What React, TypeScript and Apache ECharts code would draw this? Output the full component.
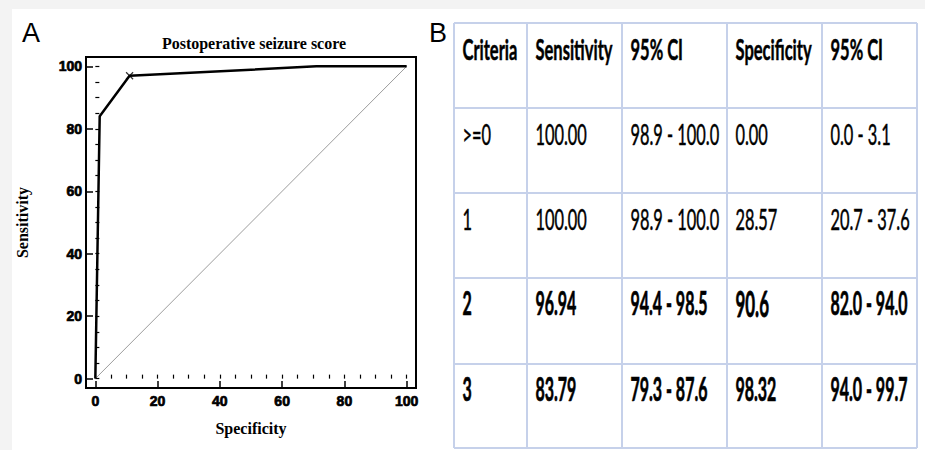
import React, { useEffect, useRef } from "react";
import * as echarts from "echarts";

// ---------- Panel A data (ROC curve) ----------
// x = 100 - Specificity (as plotted), y = Sensitivity
const rocX = [0, 1.4, 11, 71, 100];
const rocY = [0, 84, 97, 100, 100];
const markIndex = 2;
const refX = [0, 100];
const refY = [0, 100];
const majorTicks = [0, 20, 40, 60, 80, 100];
const minorTicks = [0, 5, 10, 15, 20, 25, 30, 35, 40, 45, 50, 55, 60, 65, 70, 75, 80, 85, 90, 95, 100];

// ---------- Panel B data (table) ----------
const headers = ["Criteria", "Sensitivity", "95% CI", "Specificity", "95% CI"];
const criteria = [">=0", "1", "2", "3"];
const sensitivity = ["100.00", "100.00", "96.94", "83.79"];
const sensCI = ["98.9 - 100.0", "98.9 - 100.0", "94.4 - 98.5", "79.3 - 87.6"];
const specificity = ["0.00", "28.57", "90.6", "98.32"];
const specCI = ["0.0 - 3.1", "20.7 - 37.6", "82.0 - 94.0", "94.0 - 99.7"];
const boldRows = [false, false, true, true];

// ---------- layout ----------
const colEdges = [454, 527, 622, 727, 822, 917];
const rowEdges = [23, 108, 193, 278, 364, 448];
const TABLE_FONT = "Lato, 'Open Sans', sans-serif";
const styles = {
  header: { weight: 700, size: 28, sx: 0.59, base: 37, stroke: 0.5 },
  regular: { weight: 400, size: 28, sx: 0.585, base: 37, stroke: 0.5 },
  bold: { weight: 700, size: 32, sx: 0.5, base: 37, stroke: 0.7 },
  big: { weight: 700, size: 36, sx: 0.47, base: 39, stroke: 0.8 },
};

function cellText(text: string, col: number, row: number, st: any) {
  const x = colEdges[col] + 8.5;
  const y = rowEdges[row] + st.base - 0.39 * st.size;
  return {
    type: "text",
    x,
    y,
    scaleX: st.sx,
    scaleY: 1,
    silent: true,
    style: {
      text,
      fill: "#000",
      stroke: "#000",
      lineWidth: st.stroke,
      fontFamily: TABLE_FONT,
      fontWeight: st.weight,
      fontSize: st.size,
      align: "left",
      verticalAlign: "middle",
    },
  };
}

function buildTable() {
  const els: any[] = [];
  const stroke = "#c6d1ea";
  colEdges.forEach((cx) => {
    els.push({
      type: "line",
      silent: true,
      shape: { x1: cx, y1: rowEdges[0], x2: cx, y2: rowEdges[rowEdges.length - 1] },
      style: { stroke, lineWidth: 2 },
    });
  });
  rowEdges.forEach((ry) => {
    els.push({
      type: "line",
      silent: true,
      shape: { x1: colEdges[0], y1: ry, x2: colEdges[colEdges.length - 1], y2: ry },
      style: { stroke, lineWidth: 2 },
    });
  });
  headers.forEach((h, c) => els.push(cellText(h, c, 0, styles.header)));
  criteria.forEach((_, r) => {
    const st = boldRows[r] ? styles.bold : styles.regular;
    const cells = [criteria[r], sensitivity[r], sensCI[r], specificity[r], specCI[r]];
    cells.forEach((t, c) => {
      const s = boldRows[r] && c === 3 && r === 2 ? styles.big : st;
      els.push(cellText(t, c, r + 1, s));
    });
  });
  return els;
}

export default function App() {
  const ref = useRef<HTMLDivElement>(null);
  useEffect(() => {
    document.body.style.margin = "0";
    if (!ref.current) return;
    const chart = echarts.init(ref.current, null, { renderer: "svg", width: 925, height: 450 });
    const tickLabel = {
      color: "#000",
      fontFamily: "'Liberation Sans', Arial, sans-serif",
      fontWeight: "bold",
      fontSize: 14,
      textBorderColor: "#000",
      textBorderWidth: 0.7,
    };
    const nameStyle = {
      color: "#000",
      fontFamily: "'Liberation Serif', 'Times New Roman', serif",
      fontWeight: "bold",
      fontSize: 16,
    };
    const option: any = {
      animation: false,
      backgroundColor: "#ffffff",
      grid: {
        left: 86,
        top: 57,
        width: 330,
        height: 331,
        show: true,
        borderColor: "#000",
        borderWidth: 2,
        backgroundColor: "transparent",
      },
      xAxis: [
        {
          type: "value",
          min: -3,
          max: 103,
          position: "bottom",
          name: "Specificity",
          nameLocation: "middle",
          nameGap: 32,
          nameTextStyle: nameStyle,
          axisLine: { show: true, onZero: false, lineStyle: { color: "#000", width: 2 } },
          axisTick: { show: true, inside: true, length: 7, customValues: majorTicks, lineStyle: { color: "#000", width: 1.5 } },
          axisLabel: { ...tickLabel, margin: 6, customValues: majorTicks },
          splitLine: { show: false },
        },
        {
          type: "value",
          min: -3,
          max: 103,
          position: "bottom",
          axisLine: { show: false },
          axisTick: { show: true, inside: true, length: 4, customValues: minorTicks, lineStyle: { color: "#000", width: 1.2 } },
          axisLabel: { show: false },
          splitLine: { show: false },
        },
      ],
      yAxis: [
        {
          type: "value",
          min: -3,
          max: 103,
          position: "left",
          name: "Sensitivity",
          nameLocation: "middle",
          nameGap: 56,
          nameRotate: 90,
          nameTextStyle: nameStyle,
          axisLine: { show: true, onZero: false, lineStyle: { color: "#000", width: 2 } },
          axisTick: { show: true, inside: true, length: 7, customValues: majorTicks, lineStyle: { color: "#000", width: 1.5 } },
          axisLabel: { ...tickLabel, margin: 4, customValues: majorTicks },
          splitLine: { show: false },
        },
        {
          type: "value",
          min: -3,
          max: 103,
          position: "left",
          axisLine: { show: false },
          axisTick: { show: true, inside: true, length: 4, customValues: minorTicks, lineStyle: { color: "#000", width: 1.2 } },
          axisLabel: { show: false },
          splitLine: { show: false },
        },
      ],
      series: [
        {
          type: "line",
          name: "reference",
          xAxisIndex: 0,
          yAxisIndex: 0,
          data: refX.map((x, i) => [x, refY[i]]),
          symbol: "none",
          lineStyle: { color: "#9c9c9c", width: 1 },
          z: 2,
        },
        {
          type: "line",
          name: "ROC",
          xAxisIndex: 0,
          yAxisIndex: 0,
          data: rocX.map((x, i) => [x, rocY[i]]),
          symbol: "none",
          lineStyle: { color: "#000", width: 2.5 },
          z: 3,
        },
        {
          type: "scatter",
          name: "criterion",
          xAxisIndex: 0,
          yAxisIndex: 0,
          data: [[rocX[markIndex], rocY[markIndex]]],
          symbol: "path://M0 0L10 10M10 0L0 10",
          symbolSize: 7,
          itemStyle: { color: "transparent", borderColor: "#000", borderWidth: 1.2 },
          z: 4,
        },
      ],
      graphic: {
        elements: [
          { type: "rect", silent: true, shape: { x: 0, y: 0, width: 925, height: 9 }, style: { fill: "#f3f3f3" } },
          { type: "rect", silent: true, shape: { x: 0, y: 0, width: 12, height: 450 }, style: { fill: "#f3f3f3" } },
          {
            type: "text",
            x: 254,
            y: 43,
            silent: true,
            style: {
              text: "Postoperative seizure score",
              fill: "#000",
              fontFamily: "'Liberation Serif', 'Times New Roman', serif",
              fontWeight: "bold",
              fontSize: 16,
              align: "center",
              verticalAlign: "middle",
            },
          },
          {
            type: "text",
            x: 31,
            y: 33,
            silent: true,
            style: {
              text: "A",
              fill: "#000",
              fontFamily: "'Liberation Sans', Arial, sans-serif",
              fontSize: 27,
              align: "center",
              verticalAlign: "middle",
            },
          },
          {
            type: "text",
            x: 438,
            y: 33,
            silent: true,
            style: {
              text: "B",
              fill: "#000",
              fontFamily: "'Liberation Sans', Arial, sans-serif",
              fontSize: 27,
              align: "center",
              verticalAlign: "middle",
            },
          },
          ...buildTable(),
        ],
      },
    };
    chart.setOption(option);
    return () => chart.dispose();
  }, []);
  return <div ref={ref} style={{ width: 925, height: 450 }} />;
}
